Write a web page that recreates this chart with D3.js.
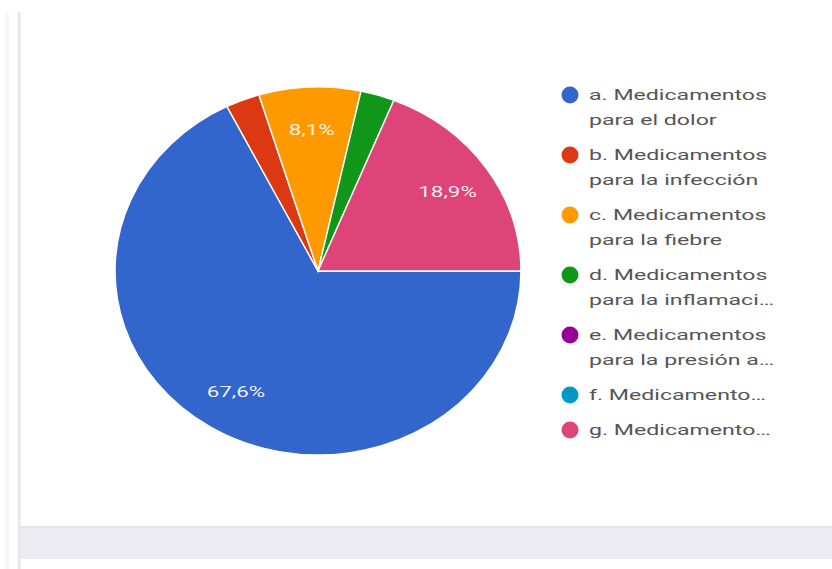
<!DOCTYPE html>
<html>
<head>
<meta charset="utf-8">
<script src="https://cdn.jsdelivr.net/npm/d3@7"></script>
<style>
  html, body { margin: 0; padding: 0; background: #ffffff; }
  svg { display: block; }
  text { font-family: Roboto, "Noto Sans", Arial, sans-serif; }
</style>
</head>
<body>
<svg id="chart" width="832" height="569"></svg>
<script>
// Answer categories (legend lines) and their share of responses, in percent
const categories = [
  ["a. Medicamentos", "para el dolor"],
  ["b. Medicamentos", "para la infección"],
  ["c. Medicamentos", "para la fiebre"],
  ["d. Medicamentos", "para la inflamaci…"],
  ["e. Medicamentos", "para la presión a…"],
  ["f. Medicamento…"],
  ["g. Medicamento…"]
];
const values = [67.6, 2.7, 8.1, 2.7, 0, 0, 18.9];
const colors = ["#3366cc", "#dc3912", "#ff9900", "#109618", "#990099", "#0099c6", "#dd4477"];

const svg = d3.select("#chart");
const W = 832, H = 569;

// Page frame: left rule, lower band
svg.append("rect").attr("x", 0).attr("y", 0).attr("width", W).attr("height", H).attr("fill", "#ffffff");
svg.append("rect").attr("x", 5).attr("y", 12).attr("width", 4).attr("height", H - 12).attr("fill", "#f7f7f7");
svg.append("rect").attr("x", 18).attr("y", 12).attr("width", 2.5).attr("height", H - 12).attr("fill", "#e6e6e6");
svg.append("rect").attr("x", 20).attr("y", 526).attr("width", W - 20).attr("height", 2).attr("fill", "#e4e3ea");
svg.append("rect").attr("x", 20).attr("y", 528).attr("width", W - 20).attr("height", 31).attr("fill", "#ecebf4");

// Pie
const cx = 318, cy = 271, r = 184, sx = 1.103;
const pie = d3.pie().value(d => d).sort(null)
  .startAngle(Math.PI / 2).endAngle(Math.PI / 2 + 2 * Math.PI);
const arcs = pie(values);
const arc = d3.arc().innerRadius(0).outerRadius(r);
const labelArc = d3.arc().innerRadius(r * 0.77).outerRadius(r * 0.77);

const g = svg.append("g").attr("transform", `translate(${cx},${cy}) scale(${sx},1)`);
g.selectAll("path.slice")
  .data(arcs.filter(a => a.value > 0))
  .join("path")
  .attr("class", "slice")
  .attr("d", arc)
  .attr("fill", d => colors[d.index])
  .attr("stroke", "#ffffff")
  .attr("stroke-width", 1.3);

// Text is drawn wide: horizontal scale factor fitted from the first legend line
const probe = svg.append("text").attr("font-size", 15.5).text(categories[0][0]);
const tx = 178 / probe.node().getComputedTextLength();
probe.remove();

// Percentage labels on slices larger than 5%
svg.append("g").selectAll("text")
  .data(arcs.filter(a => a.value >= 5))
  .join("text")
  .attr("transform", d => {
    const [x, y] = labelArc.centroid(d);
    return `translate(${cx + x * sx},${cy + y}) scale(${tx},1)`;
  })
  .attr("text-anchor", "middle")
  .attr("dominant-baseline", "central")
  .attr("font-size", 15)
  .attr("fill", "#ffffff")
  .attr("fill-opacity", 0.92)
  .text(d => d3.format(".1f")(d.value).replace(".", ",") + "%");

// Legend
const lx = 570, ly0 = 95, lineH = 25, gap = 10;
let y = ly0;
const legend = svg.append("g");
categories.forEach((lines, i) => {
  const row = legend.append("g").attr("transform", `translate(${lx},${y})`);
  row.append("circle").attr("r", 8.5).attr("fill", colors[i]);
  lines.forEach((t, k) => {
    row.append("text")
      .attr("transform", `translate(19,${k * lineH}) scale(${tx},1)`)
      .attr("dominant-baseline", "central")
      .attr("font-size", 15.5)
      .attr("fill", "#555555")
      .text(t);
  });
  y += lines.length * lineH + gap;
});
</script>
</body>
</html>
